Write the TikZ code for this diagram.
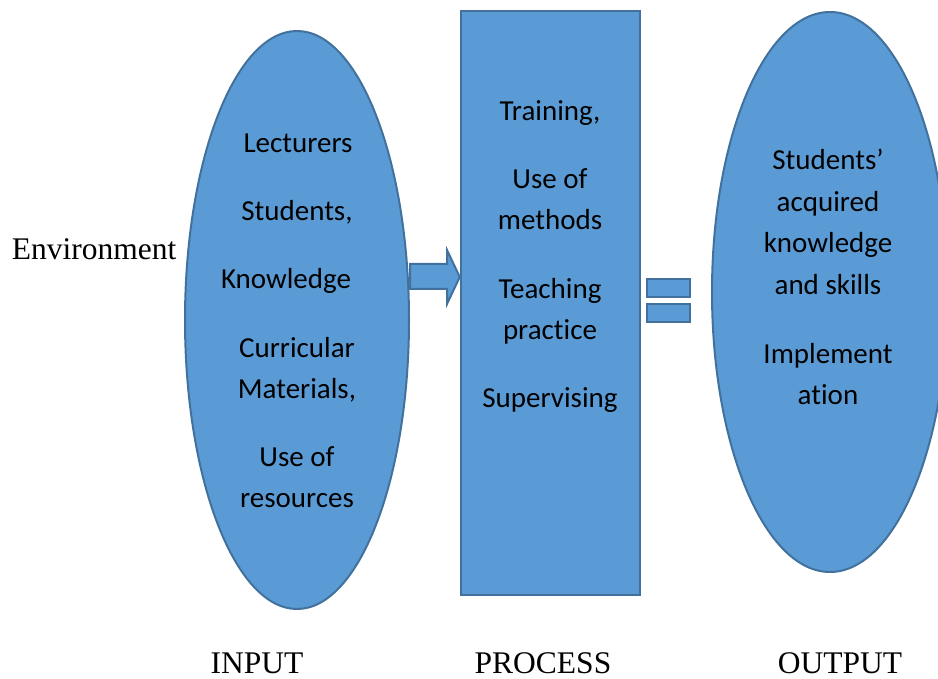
\documentclass[tikz,border=0pt]{standalone}
\usepackage{fontspec}
\setmainfont{Liberation Serif}
\newfontfamily\bodyfont[Ligatures={NoCommon}]{Carlito}
\usetikzlibrary{shapes.geometric}
\definecolor{boxfill}{HTML}{5B9BD5}
\definecolor{boxline}{HTML}{41719C}
\begin{document}
\begin{tikzpicture}[x=1pt,y=-1pt,
  blockshape/.style={fill=boxfill, draw=boxline, line width=2pt, inner sep=0pt},
  lbl/.style={font=\bodyfont\fontsize{29}{35}\selectfont, anchor=base, inner sep=0pt},
  caption/.style={font=\fontsize{31.5}{38}\selectfont, anchor=base, inner sep=0pt}]
\useasboundingbox (0,0) rectangle (938,679);

% input ellipse
\node[blockshape, ellipse, minimum width=224pt, minimum height=578pt] (input) at (297,320) {};
% process column
\node[blockshape, rectangle, line width=2.5pt, minimum width=179pt, minimum height=584pt] (process) at (550.5,303) {};
% output ellipse, cut at the right edge
\begin{scope}
  \clip (0,0) rectangle (938,679);
  \node[blockshape, ellipse, minimum width=236pt, minimum height=560pt] (output) at (830,292) {};
\end{scope}

% block arrow from input to process
\filldraw[fill=boxfill, draw=boxline, line width=2pt, line join=miter]
  (input.east |- 0,264) -- (447,264) -- (447,250) -- (process.west |- 0,277)
  -- (447,304) -- (447,289) -- (input.east |- 0,289) -- cycle;

% equals sign between process and output
\filldraw[fill=boxfill, draw=boxline, line width=2pt] (647,279) rectangle (690,297);
\filldraw[fill=boxfill, draw=boxline, line width=2pt] (647,304) rectangle (690,322);

% input items
\node[lbl] (in1) at (298,153) {Lecturers};
\node[lbl] (in2) at (297,221) {Students,};
\node[lbl] (in3) at (286,289) {Knowledge};
\node[lbl] (in4) at (297,357) {Curricular};
\node[lbl] (in5) at (297,398) {Materials,};
\node[lbl] (in6) at (297,466) {Use of};
\node[lbl] (in7) at (297,507) {resources};

% process items
\node[lbl] (pr1) at (550,121) {Training,};
\node[lbl] (pr2) at (550,189) {Use of};
\node[lbl] (pr3) at (550,230) {methods};
\node[lbl] (pr4) at (550,299) {Teaching};
\node[lbl] (pr5) at (550,340) {practice};
\node[lbl] (pr6) at (550,407) {Supervising};

% output items
\node[lbl] (ou1) at (828,170) {Students’};
\node[lbl] (ou2) at (828,212) {acquired};
\node[lbl] (ou3) at (828,253) {knowledge};
\node[lbl] (ou4) at (828,295) {and skills};
\node[lbl] (ou5) at (828,363) {Implement};
\node[lbl] (ou6) at (828,404) {ation};

% captions
\node[caption] (env) at (94,260) {Environment};
\node[caption] (capin) at (257,673) {INPUT};
\node[caption] (cappr) at (543,673) {PROCESS};
\node[caption] (capout) at (840,673) {OUTPUT};
\end{tikzpicture}
\end{document}
